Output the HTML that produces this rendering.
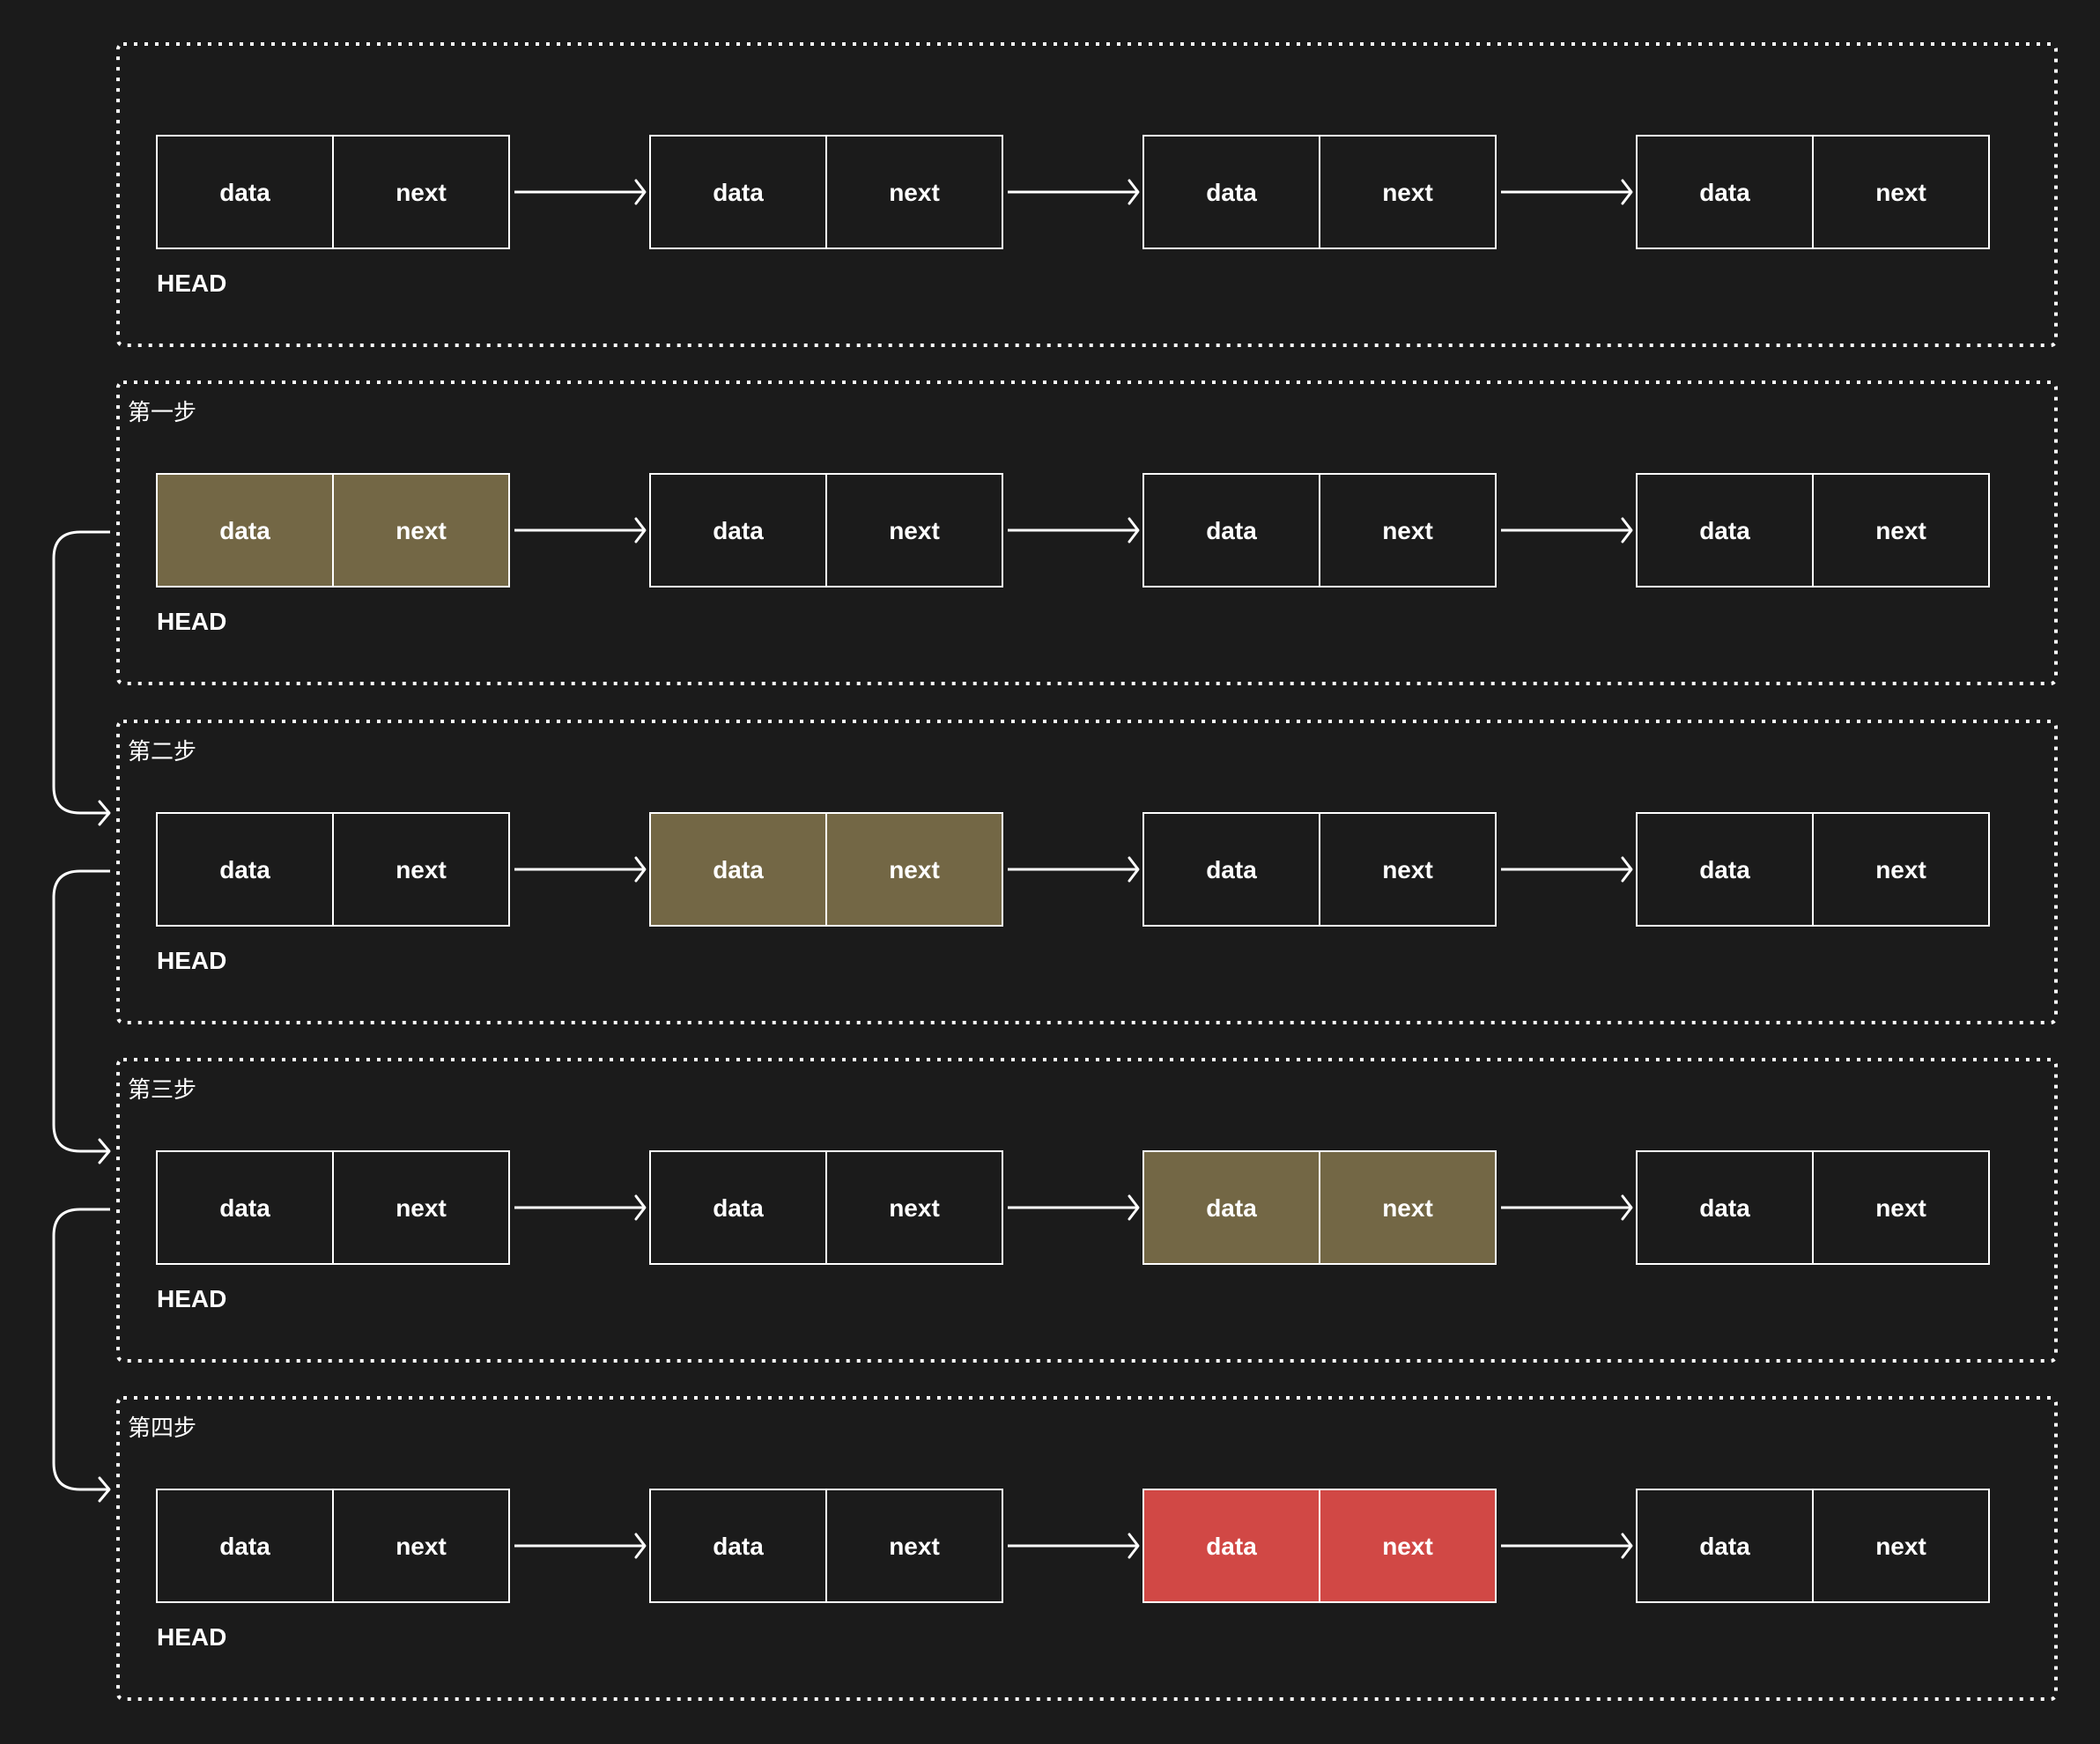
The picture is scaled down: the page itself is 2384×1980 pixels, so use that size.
<!DOCTYPE html>
<html><head><meta charset="utf-8"><style>
html,body{margin:0;padding:0;background:#1b1b1b;}
svg{display:block;}
text{font-family:"Liberation Sans","Noto Sans CJK SC",sans-serif;fill:#fff;}
.b{font-weight:bold;font-size:28px;}
.s{font-size:26px;}
</style></head><body>
<svg width="2384" height="1980" viewBox="0 0 2384 1980" xmlns="http://www.w3.org/2000/svg">
<rect width="2384" height="1980" fill="#1b1b1b"/>
<g id="all"></g>
</svg>
<script>
(function(){
var g=document.getElementById('all');var h='';
var lefts=[178,738,1298,1858];
var fills=[[null,null,null,null],['#736745',null,null,null],[null,'#736745',null,null],[null,null,'#736745',null],[null,null,'#d14845',null]];
var steps=['','第一步','第二步','第三步','第四步'];
for(var i=0;i<5;i++){
 var T=Math.round(50+i*384.3);
 h+='<rect x="134" y="'+T+'" width="2200" height="342" rx="6" fill="none" stroke="#fff" stroke-width="4" stroke-dasharray="4 8"/>';
 if(steps[i]) h+='<text class="s" x="145" y="'+(T+43)+'">'+steps[i]+'</text>';
 for(var j=0;j<4;j++){
  var x=lefts[j],y=T+104,f=fills[i][j]||'#1b1b1b';
  h+='<rect x="'+x+'" y="'+y+'" width="400" height="128" fill="'+f+'" stroke="#fff" stroke-width="2"/>';
  h+='<line x1="'+(x+200)+'" y1="'+y+'" x2="'+(x+200)+'" y2="'+(y+128)+'" stroke="#fff" stroke-width="2"/>';
  h+='<text class="b" x="'+(x+100)+'" y="'+(y+74)+'" text-anchor="middle">data</text>';
  h+='<text class="b" x="'+(x+300)+'" y="'+(y+74)+'" text-anchor="middle">next</text>';
  if(j<3){var cy=y+64,ax=x+406,bx=lefts[j+1]-6;
   h+='<line x1="'+ax+'" y1="'+cy+'" x2="'+bx+'" y2="'+cy+'" stroke="#fff" stroke-width="3"/>';
   h+='<polyline points="'+(bx-10)+','+(cy-13)+' '+bx+','+cy+' '+(bx-10)+','+(cy+13)+'" fill="none" stroke="#fff" stroke-width="3" stroke-linecap="round" stroke-linejoin="round"/>';}
 }
 h+='<text class="b" x="178" y="'+(T+281)+'">HEAD</text>';
 if(i>=1&&i<4){
  var y1=T+170,T2=Math.round(50+(i+1)*384.3),y2=T2+104;
  h+='<path d="M125 '+y1+' H91 Q61 '+y1+' 61 '+(y1+30)+' V'+(y2-30)+' Q61 '+y2+' 91 '+y2+' H123" fill="none" stroke="#fff" stroke-width="3"/>';
  h+='<polyline points="113,'+(y2-13)+' 124,'+y2+' 113,'+(y2+13)+'" fill="none" stroke="#fff" stroke-width="3" stroke-linecap="round" stroke-linejoin="round"/>';
 }
}
g.innerHTML=h;
})();
</script>
</body></html>
